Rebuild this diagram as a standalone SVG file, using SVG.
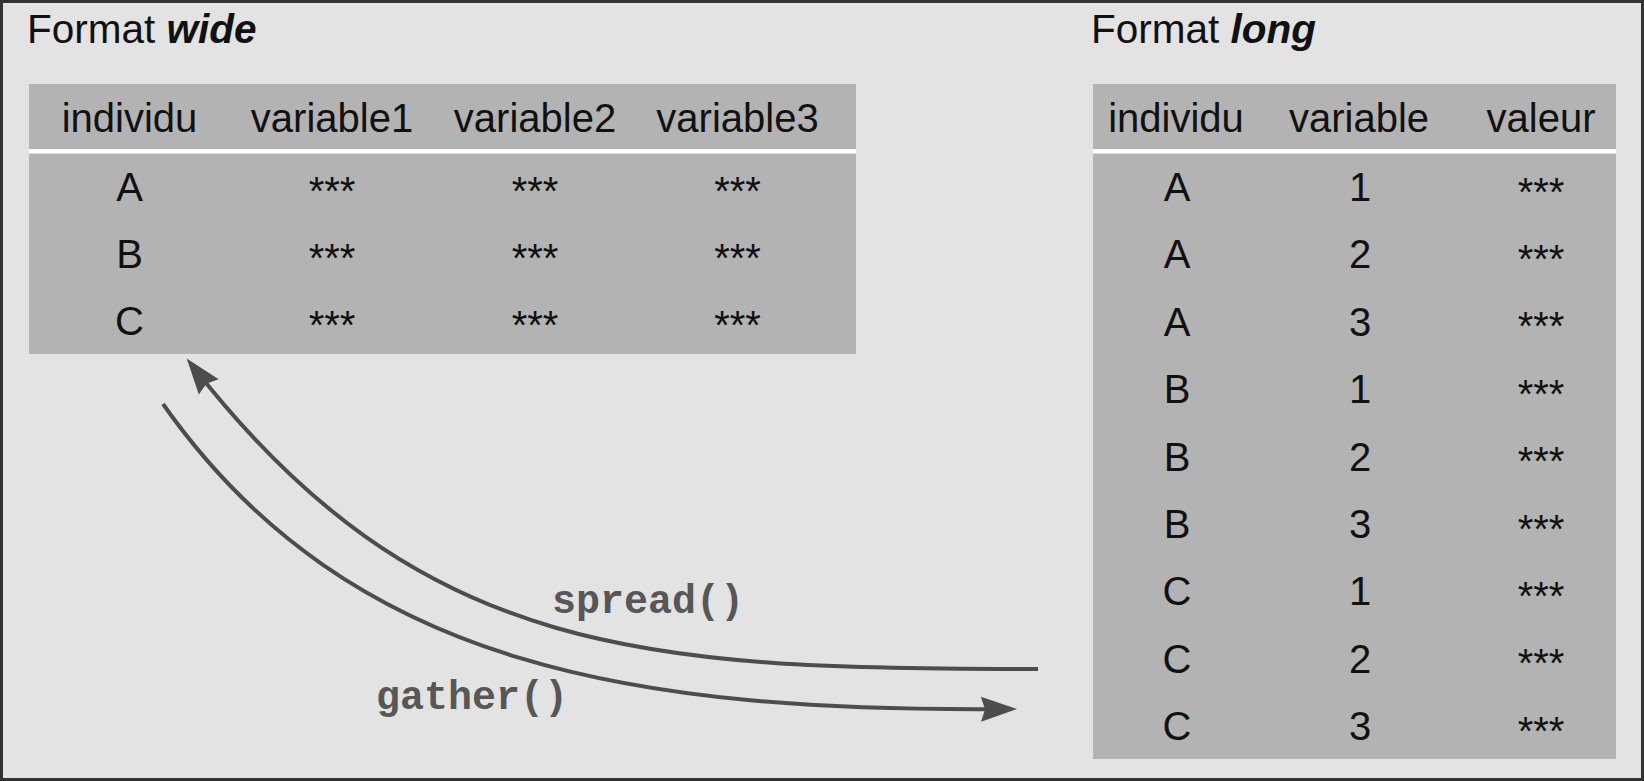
<svg xmlns="http://www.w3.org/2000/svg" width="1644" height="781" viewBox="0 0 1644 781">
  <style>
    .title { font-family: "Liberation Sans", Arial, sans-serif; font-size: 40.5px; fill: #111; }
    .emph { font-weight: bold; font-style: italic; }
    .cell { font-family: "Liberation Sans", Arial, sans-serif; font-size: 40px; fill: #111; text-anchor: middle; }
    .tbl { fill: #b3b3b3; }
    .sep { fill: #ffffff; }
    .conn { fill: none; stroke: #4d4d4d; stroke-width: 4; }
    .code { font-family: "Liberation Mono", "Courier New", monospace; font-weight: bold; font-size: 40px; fill: #575757; }
  </style>
  <defs>
    <marker id="arrow" markerUnits="userSpaceOnUse" markerWidth="38" markerHeight="27" refX="30" refY="13.5" orient="auto" viewBox="0 0 38 27">
      <path d="M1,1 L37,13.5 L1,26 L5,13.5 z" fill="#4d4d4d"/>
    </marker>
  </defs>

  <rect id="background" x="1.5" y="1.5" width="1641" height="778" fill="#e3e3e3" stroke="#333" stroke-width="3"/>

  <g id="wide">
    <text class="title" x="27" y="43">Format <tspan class="emph">wide</tspan></text>
    <rect class="tbl" x="29" y="84" width="827" height="65"/>
    <rect class="sep" x="29" y="149" width="827" height="4"/>
    <rect class="tbl" x="29" y="154" width="827" height="200"/>
    <g class="cell">
      <text x="129.5" y="132">individu</text>
      <text x="332" y="132">variable1</text>
      <text x="535" y="132">variable2</text>
      <text x="737.5" y="132">variable3</text>

      <text x="129.5" y="200.5">A</text>
      <text x="129.5" y="267.5">B</text>
      <text x="129.5" y="334.5">C</text>

      <text x="332" y="205">***</text>
      <text x="535" y="205">***</text>
      <text x="737.5" y="205">***</text>
      <text x="332" y="272">***</text>
      <text x="535" y="272">***</text>
      <text x="737.5" y="272">***</text>
      <text x="332" y="339">***</text>
      <text x="535" y="339">***</text>
      <text x="737.5" y="339">***</text>
    </g>
  </g>

  <g id="long">
    <text class="title" x="1091" y="43">Format <tspan class="emph">long</tspan></text>
    <rect class="tbl" x="1093" y="84" width="523" height="65"/>
    <rect class="sep" x="1093" y="149" width="523" height="4"/>
    <rect class="tbl" x="1093" y="154" width="523" height="605"/>
    <g class="cell">
      <text x="1176" y="132">individu</text>
      <text x="1359" y="132">variable</text>
      <text x="1541" y="132">valeur</text>

      <text x="1177" y="201">A</text><text x="1360" y="201">1</text><text x="1541" y="205.5">***</text>
      <text x="1177" y="268.4">A</text><text x="1360" y="268.4">2</text><text x="1541" y="272.9">***</text>
      <text x="1177" y="335.8">A</text><text x="1360" y="335.8">3</text><text x="1541" y="340.3">***</text>
      <text x="1177" y="403.2">B</text><text x="1360" y="403.2">1</text><text x="1541" y="407.7">***</text>
      <text x="1177" y="470.6">B</text><text x="1360" y="470.6">2</text><text x="1541" y="475.1">***</text>
      <text x="1177" y="538">B</text><text x="1360" y="538">3</text><text x="1541" y="542.5">***</text>
      <text x="1177" y="605.4">C</text><text x="1360" y="605.4">1</text><text x="1541" y="609.9">***</text>
      <text x="1177" y="672.8">C</text><text x="1360" y="672.8">2</text><text x="1541" y="677.3">***</text>
      <text x="1177" y="740.2">C</text><text x="1360" y="740.2">3</text><text x="1541" y="744.7">***</text>
    </g>
  </g>

  <g id="connectors">
    <path id="spread-edge" class="conn" d="M1038,669 C650,669 420,660 191,364" marker-end="url(#arrow)"/>
    <path id="gather-edge" class="conn" d="M163,404 C350,670 640,712 1010,709" marker-end="url(#arrow)"/>
    <text class="code" x="552" y="613">spread()</text>
    <text class="code" x="376" y="709">gather()</text>
  </g>
</svg>
